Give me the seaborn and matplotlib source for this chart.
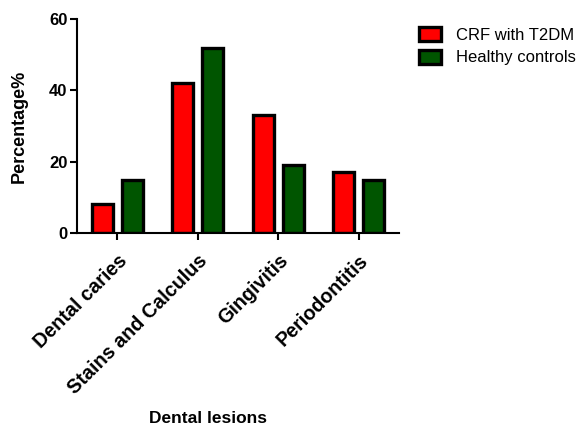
import matplotlib
matplotlib.use("Agg")
import matplotlib.pyplot as plt
import seaborn as sns
import pandas as pd

categories = ["Dental caries", "Stains and Calculus", "Gingivitis", "Periodontitis"]
series_names = ["CRF with T2DM", "Healthy controls"]
crf_values = [8, 42, 33, 17]
healthy_values = [15, 52, 19, 15]
y_ticks = [0, 20, 40, 60]

sns.set_theme(style="ticks")
plt.rcParams['font.family'] = ['Liberation Sans', 'DejaVu Sans']
plt.rcParams['text.color'] = 'black'
plt.rcParams['axes.labelcolor'] = 'black'
plt.rcParams['xtick.color'] = 'black'
plt.rcParams['ytick.color'] = 'black'
plt.rcParams['axes.edgecolor'] = 'black'

df = pd.DataFrame({
    "lesion": categories * 2,
    "group": [series_names[0]] * 4 + [series_names[1]] * 4,
    "value": crf_values + healthy_values,
})

fig = plt.figure(figsize=(5.82, 4.28), dpi=100)
ax = fig.add_axes([77/582, 1 - 233/428, (399-77)/582, (233-19)/428])

sns.barplot(data=df, x="lesion", y="value", hue="group", order=categories,
            hue_order=series_names, palette=["#FF0000", "#005500"], saturation=1,
            width=0.744, gap=0.30, edgecolor="black", linewidth=2.4,
            errorbar=None, ax=ax, legend=True)

ax.set_xlim(-0.5, 3.5)
ax.set_ylim(0, 60)
ax.set_yticks(y_ticks)
ax.set_yticklabels([str(t) for t in y_ticks], fontsize=12, fontweight="bold")
ax.set_xticks(range(len(categories)))
ax.set_xticklabels(categories, rotation=45, ha="right", rotation_mode="anchor",
                   fontsize=14.2, fontweight="bold")
for s in ["top", "right"]:
    ax.spines[s].set_visible(False)
for s in ["left", "bottom"]:
    ax.spines[s].set_linewidth(1.5)
ax.tick_params(axis="both", width=1.5, length=5, pad=2)
ax.tick_params(axis="x", pad=8)
ax.set_ylabel("Percentage%", fontsize=13, fontweight="bold")
ax.yaxis.set_label_coords(-(77-28)/322, 0.5)
ax.set_xlabel("Dental lesions", fontsize=12.5, fontweight="bold")
ax.xaxis.set_label_coords((208-77)/322, -(411-233)/214)

leg = ax.legend(loc="upper left", bbox_to_anchor=(411/582, 1 - 19/428),
                bbox_transform=fig.transFigure, frameon=False, fontsize=12,
                handlelength=1.3, handleheight=0.9, handletextpad=0.9,
                labelspacing=0.4, borderpad=0)

fig.savefig("out.png", dpi=100)
